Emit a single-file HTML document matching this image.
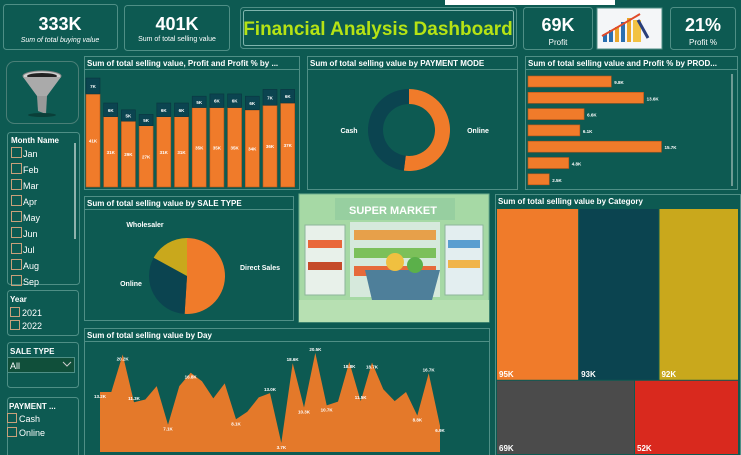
<!DOCTYPE html>
<html><head><meta charset="utf-8">
<style>
html,body{margin:0;padding:0;background:#0d5a52;}
body{width:741px;height:455px;overflow:hidden;font-family:"Liberation Sans",sans-serif;}
svg{display:block}
text{font-family:"Liberation Sans",sans-serif}
</style></head>
<body>
<svg id="dash" width="741" height="455" viewBox="0 0 741 455" xmlns="http://www.w3.org/2000/svg">
<rect x="0" y="0" width="741" height="455" fill="#0d5a52"/>
<!-- KPI cards -->
<g>
<rect x="3.5" y="4.5" width="114" height="45" rx="3" fill="none" stroke="#4f8f86"/>
<text x="60" y="30" text-anchor="middle" fill="#fff" font-size="18" font-weight="bold">333K</text>
<text x="60" y="42" text-anchor="middle" fill="#fff" font-size="7" font-style="italic">Sum of total buying value</text>
</g>
<g>
<rect x="124.5" y="5.5" width="105" height="45" rx="3" fill="none" stroke="#4f8f86"/>
<text x="177" y="30" text-anchor="middle" fill="#fff" font-size="18" font-weight="bold">401K</text>
<text x="177" y="41" text-anchor="middle" fill="#fff" font-size="7">Sum of total selling value</text>
</g>
<g>
<rect x="240.5" y="7.5" width="276" height="41" rx="3" fill="none" stroke="#4f8f86"/>
<rect x="243.5" y="10.5" width="270" height="35" rx="2" fill="none" stroke="#7fb5ad"/>
<text x="378" y="35" text-anchor="middle" fill="#b6e314" font-size="19" font-weight="bold">Financial Analysis Dashboard</text>
</g>
<rect x="445" y="0" width="170" height="5" fill="#fff"/>
<g>
<rect x="523.5" y="7.5" width="69" height="42" rx="3" fill="none" stroke="#4f8f86"/>
<text x="558" y="31" text-anchor="middle" fill="#fff" font-size="18" font-weight="bold">69K</text>
<text x="558" y="45" text-anchor="middle" fill="#fff" font-size="8">Profit</text>
</g>
<g>
<rect x="597" y="8" width="65" height="41" fill="#f4f6f8" stroke="#4f8f86"/>
<rect x="603" y="34" width="4" height="8" fill="#2a6fb0"/><rect x="609" y="30" width="4" height="12" fill="#2a6fb0"/>
<rect x="615" y="27" width="4" height="15" fill="#e9a62a"/><rect x="621" y="22" width="4" height="20" fill="#2a6fb0"/>
<rect x="627" y="18" width="4" height="24" fill="#e9a62a"/><rect x="633" y="20" width="8" height="22" fill="#f2c244"/>
<path d="M602 36 Q620 26 640 14" stroke="#e04a2a" stroke-width="2" fill="none"/>
<path d="M638 20 L648 38" stroke="#2a3f7a" stroke-width="3"/>
</g>
<g>
<rect x="670.5" y="7.5" width="65" height="42" rx="3" fill="none" stroke="#4f8f86"/>
<text x="703" y="31" text-anchor="middle" fill="#fff" font-size="18" font-weight="bold">21%</text>
<text x="703" y="45" text-anchor="middle" fill="#fff" font-size="8">Profit %</text>
</g>

<!-- Funnel -->
<g>
<rect x="6.5" y="61.5" width="72" height="62" rx="8" fill="#0d5a52" stroke="#4a7f77"/>
<ellipse cx="42" cy="76" rx="19" ry="5" fill="#cfcfcf" stroke="#888"/>
<ellipse cx="42" cy="76" rx="15" ry="3" fill="#222"/>
<path d="M23 77 L37 96 L47 96 L61 77 Z" fill="#aaa"/>
<path d="M37 96 L38 111 L46 114 L47 96 Z" fill="#999"/>
<ellipse cx="42" cy="115" rx="14" ry="2" fill="#0a3f39"/>
</g>

<!-- Month slicer -->
<g>
<rect x="7.5" y="132.5" width="72" height="152" rx="3" fill="none" stroke="#4f8f86"/>
<text x="11" y="143" fill="#fff" font-size="8" font-weight="bold">Month Name</text>
<rect x="74" y="143" width="2" height="96" fill="#8fb3ad"/>
</g>
<g id="months"></g>

<!-- Year slicer -->
<g>
<rect x="7.5" y="290.5" width="71" height="45" rx="3" fill="none" stroke="#4f8f86"/>
<text x="10" y="302" fill="#fff" font-size="8" font-weight="bold">Year</text>
<rect x="10.5" y="307.5" width="9" height="9" fill="none" stroke="#c9a07a"/>
<text x="22" y="316" fill="#fff" font-size="9">2021</text>
<rect x="10.5" y="320.5" width="9" height="9" fill="none" stroke="#c9a07a"/>
<text x="22" y="329" fill="#fff" font-size="9">2022</text>
</g>
<g>
<rect x="7.5" y="342.5" width="71" height="45" rx="3" fill="none" stroke="#4f8f86"/>
<text x="10" y="354" fill="#fff" font-size="8" font-weight="bold">SALE TYPE</text>
<rect x="7.5" y="357.5" width="67" height="15" fill="#104f3a" stroke="#4f8f86"/>
<text x="10" y="369" fill="#fff" font-size="9">All</text>
<path d="M63 362 L67 366 L71 362" stroke="#ccc" fill="none"/>
</g>
<g>
<rect x="7.5" y="397.5" width="71" height="60" rx="3" fill="none" stroke="#4f8f86"/>
<text x="9" y="409" fill="#fff" font-size="8" font-weight="bold">PAYMENT ...</text>
<rect x="7.5" y="413.5" width="9" height="9" fill="none" stroke="#c9a07a"/>
<text x="19" y="422" fill="#fff" font-size="9">Cash</text>
<rect x="7.5" y="427.5" width="9" height="9" fill="none" stroke="#c9a07a"/>
<text x="19" y="436" fill="#fff" font-size="9">Online</text>
</g>

<!-- Panels -->
<g>
<rect x="84.5" y="56.5" width="215" height="133" fill="none" stroke="#4f8f86"/>
<line x1="85" y1="69.5" x2="299" y2="69.5" stroke="#4f8f86"/>
<text x="87" y="66" fill="#fff" font-size="8" font-weight="bold">Sum of total selling value, Profit and Profit % by ...</text>
</g>
<g id="bars"></g>

<g>
<rect x="307.5" y="56.5" width="210" height="133" fill="none" stroke="#4f8f86"/>
<line x1="308" y1="69.5" x2="517" y2="69.5" stroke="#4f8f86"/>
<text x="310" y="66" fill="#fff" font-size="8" font-weight="bold">Sum of total selling value by PAYMENT MODE</text>
</g>
<g id="donut"></g>

<g>
<rect x="525.5" y="56.5" width="212" height="133" fill="none" stroke="#4f8f86"/>
<line x1="526" y1="69.5" x2="737" y2="69.5" stroke="#4f8f86"/>
<text x="528" y="66" fill="#fff" font-size="8" font-weight="bold">Sum of total selling value and Profit % by PROD...</text>
<rect x="731" y="74" width="2" height="112" fill="#6f9a94"/>
</g>
<g id="hbars"></g>

<g>
<rect x="84.5" y="196.5" width="209" height="124" fill="none" stroke="#4f8f86"/>
<line x1="85" y1="209.5" x2="293" y2="209.5" stroke="#4f8f86"/>
<text x="87" y="206" fill="#fff" font-size="8" font-weight="bold">Sum of total selling value by SALE TYPE</text>
</g>
<g id="pie"></g>

<g>
<rect x="299" y="194" width="190" height="128" fill="#a6d9a5" stroke="#6fae8f"/>
<rect x="335" y="198" width="120" height="22" fill="#97cfa0"/>
<text x="393" y="214" text-anchor="middle" fill="#fff" font-size="11" font-weight="bold">SUPER MARKET</text>
<rect x="305" y="225" width="40" height="70" fill="#e8f1ea" stroke="#8db59a"/>
<rect x="308" y="240" width="34" height="8" fill="#e9683a"/><rect x="308" y="262" width="34" height="8" fill="#c54b2a"/>
<rect x="350" y="222" width="90" height="75" fill="#d6e9dc"/>
<rect x="354" y="230" width="82" height="10" fill="#e7a04a"/><rect x="354" y="248" width="82" height="10" fill="#7cc05a"/><rect x="354" y="266" width="82" height="10" fill="#e66a3a"/>
<rect x="445" y="225" width="38" height="70" fill="#e3eef0" stroke="#8db59a"/>
<rect x="448" y="240" width="32" height="8" fill="#5a9ed0"/><rect x="448" y="260" width="32" height="8" fill="#f0b44a"/>
<path d="M365 270 L440 270 L432 300 L372 300 Z" fill="#4e7f9a"/>
<circle cx="380" cy="310" r="4" fill="#333"/><circle cx="425" cy="310" r="4" fill="#333"/>
<circle cx="395" cy="262" r="9" fill="#f0c040"/><circle cx="415" cy="265" r="8" fill="#5bb04a"/>
<rect x="299" y="300" width="190" height="22" fill="#b7e0b2"/>
</g>

<g>
<rect x="84.5" y="328.5" width="405" height="130" fill="none" stroke="#4f8f86"/>
<line x1="85" y1="341.5" x2="489" y2="341.5" stroke="#4f8f86"/>
<text x="87" y="338" fill="#fff" font-size="8" font-weight="bold">Sum of total selling value by Day</text>
</g>
<g id="area"></g>

<g>
<rect x="495.5" y="194.5" width="245" height="262" fill="none" stroke="#4f8f86"/>
<text x="498" y="204" fill="#fff" font-size="8" font-weight="bold">Sum of total selling value by Category</text>
</g>
<g id="tree"></g>
</svg>

<script>
const NS="http://www.w3.org/2000/svg";
function mk(tag,attrs,parent){const e=document.createElementNS(NS,tag);for(const k in attrs)e.setAttribute(k,attrs[k]);parent.appendChild(e);return e;}

// Month slicer
const monthNames=["Jan","Feb","Mar","Apr","May","Jun","Jul","Aug","Sep"];
const mg=document.getElementById('months');
monthNames.forEach((m,i)=>{const y=147+i*16;
 const b=mk('rect',{x:11.5,y:y+0.5,width:10,height:10,fill:'none',stroke:'#c9a07a'},mg);
 
 
 const t=mk('text',{x:23,y:y+10,fill:'#fff','font-size':9},mg);t.textContent=m;
 
 
});

// Monthly stacked bars
const barMonths=["Jan","Feb","Mar","Apr","May","Jun","Jul","Aug","Sep","Oct","Nov","Dec"];
const sellingVals=[41,31,29,27,31,31,35,35,35,34,36,37];
const profitVals=[7,6,5,5,6,6,5,6,6,6,7,6];
const bg=document.getElementById('bars');
const bBase=187,bScale=2.27,bX0=86,bStep=17.7,bW=14;
const yB=v=>bBase-v*bScale;
sellingVals.forEach((v,i)=>{const x=bX0+i*bStep;
 const r=mk('rect',{x:x,y:yB(v),width:bW,height:bBase-yB(v),fill:'#f07b2a',stroke:'#b9561a','stroke-width':0.6},bg);
 
 
 const p=profitVals[i];
 const c=mk('rect',{x:x,y:yB(v+p),width:bW,height:p*bScale,fill:'#0b4450',stroke:'#0a3640','stroke-width':0.6},bg);
 
 
 const t=mk('text',{x:x+bW/2,y:yB(v/2)+2,'text-anchor':'middle',fill:'#fff','font-size':4.5,'font-weight':'bold'},bg);t.textContent=v+'K';
 
 
 const t2=mk('text',{x:x+bW/2,y:yB(v+p/2)+2,'text-anchor':'middle',fill:'#fff','font-size':4.5,'font-weight':'bold'},bg);t2.textContent=p+'K';
 
 
});

function arc(cx,cy,r0,r1,a0,a1){const f=a=>[Math.sin(a),-Math.cos(a)];const [s0,c0]=f(a0),[s1,c1]=f(a1);const la=(a1-a0)>Math.PI?1:0;
 if(r0===0)return `M${cx} ${cy} L${cx+r1*s0} ${cy+r1*c0} A${r1} ${r1} 0 ${la} 1 ${cx+r1*s1} ${cy+r1*c1} Z`;
 return `M${cx+r1*s0} ${cy+r1*c0} A${r1} ${r1} 0 ${la} 1 ${cx+r1*s1} ${cy+r1*c1} L${cx+r0*s1} ${cy+r0*c1} A${r0} ${r0} 0 ${la} 0 ${cx+r0*s0} ${cy+r0*c0} Z`;}

// Donut
const payModes=["Online","Cash"];
const payVals=[52,48];
const payColors=["#f07b2a","#0b4450"];
const dg=document.getElementById('donut');
let tot=payVals.reduce((a,b)=>a+b,0),acc=0;
payVals.forEach((v,i)=>{const a0=acc/tot*2*Math.PI;acc+=v;const a1=acc/tot*2*Math.PI;
 const p=mk('path',{d:arc(409,130,26,41,a0,a1),fill:payColors[i]},dg);
 
 
});
[["Cash",349,133],["Online",478,133]].forEach(l=>{const t=mk('text',{x:l[1],y:l[2],'text-anchor':'middle',fill:'#fff','font-size':7,'font-weight':'bold'},dg);t.textContent=l[0];
 
 });

// Product horizontal bars
const products=["P1","P2","P3","P4","P5","P6","P7"];
const productVals=[9.8,13.6,6.6,6.1,15.7,4.8,2.5];
const hg=document.getElementById('hbars');
const hX0=528,hScale=8.5,hY0=76,hStep=16.3,hH=11;
productVals.forEach((v,i)=>{const y=hY0+i*hStep;
 const r=mk('rect',{x:hX0,y:y,width:v*hScale,height:hH,fill:'#f07b2a',stroke:'#b9561a','stroke-width':0.6},hg);
 
 
 const t=mk('text',{x:hX0+v*hScale+3,y:y+8,fill:'#fff','font-size':4.5,'font-weight':'bold'},hg);t.textContent=v.toFixed(1)+'K';
 
 
});

// Pie
const saleTypes=["Direct Sales","Online","Wholesaler"];
const saleVals=[51,32,17];
const saleColors=["#f07b2a","#0b4450","#c9a81c"];
const pg=document.getElementById('pie');
tot=saleVals.reduce((a,b)=>a+b,0);acc=0;
saleVals.forEach((v,i)=>{const a0=acc/tot*2*Math.PI;acc+=v;const a1=acc/tot*2*Math.PI;
 const p=mk('path',{d:arc(187,276,0,38,a0,a1),fill:saleColors[i]},pg);
 
 
});
[["Wholesaler",145,227],["Online",131,286],["Direct Sales",260,270]].forEach(l=>{const t=mk('text',{x:l[1],y:l[2],'text-anchor':'middle',fill:'#fff','font-size':7,'font-weight':'bold'},pg);t.textContent=l[0];
 
 });

// Area chart by day
const dayVals=[13.2,13.2,20.2,11.3,11.8,14.3,7.1,14.3,16.8,15.2,12.0,14.8,8.1,9.5,12.2,13.0,3.7,18.6,10.3,20.5,10.7,11.4,18.8,11.5,18.7,13.7,11.5,13.2,8.8,16.7,6.9];
const dayLabels=[[0,"13.2K"],[2,"20.2K"],[3,"11.3K"],[6,"7.1K"],[8,"16.8K"],[12,"8.1K"],[15,"13.0K"],[16,"3.7K"],[17,"18.6K"],[18,"10.3K"],[19,"20.5K"],[20,"10.7K"],[22,"18.8K"],[23,"11.5K"],[24,"18.7K"],[28,"8.8K"],[29,"16.7K"],[30,"6.9K"]];
const ag=document.getElementById('area');
const aX0=100,aX1=440,aBase=452,aMin=2.0,aPxK=5.357;
const xA=i=>aX0+i*(aX1-aX0)/(dayVals.length-1);
const yA=v=>aBase-(v-aMin)*aPxK;
let d=`M${xA(0)} ${aBase}`;dayVals.forEach((v,i)=>d+=` L${xA(i).toFixed(1)} ${yA(v).toFixed(1)}`);d+=` L${xA(dayVals.length-1)} ${aBase} Z`;
const ap=mk('path',{d:d,fill:'#e4792a'},ag);


dayLabels.forEach(l=>{const i=l[0];const t=mk('text',{x:xA(i),y:yA(dayVals[i])+(i%2? -2:6),'text-anchor':'middle',fill:'#fff','font-size':4.5,'font-weight':'bold'},ag);t.textContent=l[1];
 
 });

// Treemap
const categories=["C1","C2","C3","C4","C5"];
const catVals=[95,93,92,69,52];
const catColors=["#f07b2a","#0b4450","#c9a81c","#4b4b4b","#d9291e"];
const tg=document.getElementById('tree');
const tX=497,tY=209,tW=242,tH=246;
const rows=[[0,1,2],[3,4]];
const total=catVals.reduce((a,b)=>a+b,0);
let ry=tY;
rows.forEach(row=>{const rs=row.reduce((a,i)=>a+catVals[i],0);const rh=tH*rs/total;let rx=tX;
 row.forEach(i=>{const w=tW*catVals[i]/rs;
  const r=mk('rect',{x:rx,y:ry,width:w-1,height:rh-1,fill:catColors[i]},tg);
  
  
  const t=mk('text',{x:rx+2,y:ry+rh-4,fill:'#fff','font-size':8,'font-weight':'bold'},tg);t.textContent=catVals[i]+'K';
  
  
  rx+=w;});
 ry+=rh;});
</script>
</body></html>
